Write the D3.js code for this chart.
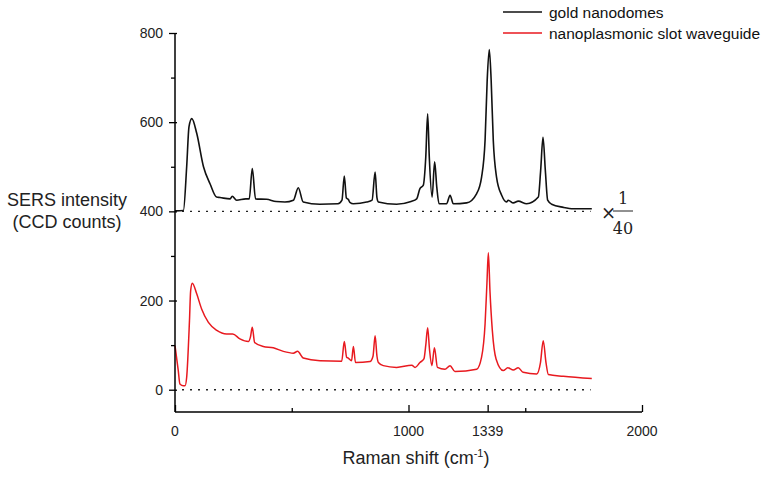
<!DOCTYPE html>
<html>
<head>
<meta charset="utf-8">
<script src="https://cdn.jsdelivr.net/npm/d3@7"></script>
<style>
  body { margin: 0; background: #fff; }
  svg { font-family: "Liberation Sans", Arial, sans-serif; }
</style>
</head>
<body>
<svg width="781" height="477"></svg>
<script>
// gold nanodomes, drawn offset by 400 (scaled x 1/40)
var goldShift = [0, 36, 50, 60, 72, 93, 122, 150, 178, 193, 236, 245, 264, 303, 318, 331, 345, 392, 433, 471,
  507, 528, 549, 620, 698, 715, 725, 734, 742, 749, 764, 821, 844, 857, 865, 871, 949, 1011, 1035, 1049,
  1063, 1074, 1082, 1089, 1101, 1112, 1121, 1131, 1163, 1178, 1192, 1249, 1292, 1313, 1328, 1337, 1346, 1354, 1363, 1377,
  1399, 1420, 1427, 1449, 1470, 1506, 1556, 1566, 1576, 1586, 1596, 1613, 1663, 1706, 1785];
var goldCounts = [401, 402, 500, 590, 608, 575, 500, 462, 432, 431, 428, 434, 425, 428, 428, 496, 428, 427, 422, 421,
  425, 453, 421, 416, 417, 425, 479, 430, 427, 420, 417, 421, 425, 488, 430, 421, 416, 422, 428, 451,
  458, 522, 619, 522, 432, 511, 455, 417, 417, 436, 417, 419, 440, 477, 560, 694, 763, 694, 560, 477,
  436, 421, 425, 419, 423, 417, 432, 492, 566, 492, 425, 416, 409, 406, 406];

// nanoplasmonic slot waveguide
var slotShift = [0, 14, 21, 36, 43, 50, 62, 67, 74, 93, 114, 143, 179, 221, 247, 278, 314, 323, 331, 341,
  378, 421, 464, 507, 525, 549, 621, 714, 725, 735, 742, 756, 764, 773, 835, 848, 857, 865, 871, 892,
  949, 1014, 1028, 1049, 1066, 1074, 1082, 1090, 1100, 1111, 1124, 1156, 1178, 1199, 1292, 1313, 1328, 1336, 1342, 1349,
  1359, 1375, 1406, 1425, 1449, 1470, 1491, 1549, 1565, 1577, 1589, 1599, 1663, 1785];
var slotCounts = [99, 43, 13, 9, 9, 28, 155, 222, 239, 215, 181, 151, 133, 125, 125, 114, 108, 118, 140, 106,
  97, 94, 86, 82, 86, 71, 65, 64, 108, 73, 71, 65, 97, 61, 63, 75, 121, 75, 61, 54,
  50, 55, 50, 61, 69, 100, 139, 90, 54, 94, 50, 46, 54, 41, 46, 73, 148, 240, 307, 220,
  133, 69, 43, 49, 44, 49, 39, 35, 60, 110, 60, 34, 30, 25];

var xMajor = [0, 1000, 1339, 2000];
var xMinor = [500, 1500];
var yMajor = [0, 200, 400, 600, 800];
var yMinor = [100, 300, 500, 700];
var baselines = [0, 400];
var seriesNames = ['gold nanodomes', 'nanoplasmonic slot waveguide'];
var seriesColors = ['#111111', '#e8191f'];

var svg = d3.select('svg');

var x = d3.scaleLinear().domain([0, 2000]).range([175, 642]);
var y = d3.scaleLinear().domain([-50, 800]).range([412, 33]);

var line = d3.line()
  .curve(d3.curveMonotoneX)
  .x(function(d) { return x(d[0]); })
  .y(function(d) { return y(d[1]); });

// dotted baselines
svg.selectAll('.base')
  .data(baselines)
  .enter()
  .append('line')
  .attr('x1', x(30))
  .attr('x2', x(1780))
  .attr('y1', function(d) { return y(d); })
  .attr('y2', function(d) { return y(d); })
  .attr('stroke', '#222')
  .attr('stroke-width', 1.4)
  .attr('stroke-dasharray', '2,6');

var gold = d3.zip(goldShift, goldCounts);
var slot = d3.zip(slotShift, slotCounts);

svg.append('path')
  .datum(slot)
  .attr('d', line)
  .attr('fill', 'none')
  .attr('stroke', seriesColors[1])
  .attr('stroke-width', 1.5)
  .attr('stroke-linejoin', 'round');

svg.append('path')
  .datum(gold)
  .attr('d', line)
  .attr('fill', 'none')
  .attr('stroke', seriesColors[0])
  .attr('stroke-width', 1.6)
  .attr('stroke-linejoin', 'round');

// x axis, ticks pointing up
var xAxis = svg.append('g').attr('transform', 'translate(0,' + y(-50) + ')');
xAxis.call(d3.axisTop(x).tickValues(xMajor).tickSize(7).tickFormat(''));
xAxis.call(function(g) {
  g.select('.domain').attr('stroke-width', 1.5).attr('d', 'M' + x(0) + ',0H' + x(2000));
  g.selectAll('.tick line').attr('stroke-width', 1.3);
});
svg.append('g')
  .attr('transform', 'translate(0,' + y(-50) + ')')
  .call(d3.axisTop(x).tickValues(xMinor).tickSize(4).tickFormat(''))
  .call(function(g) {
    g.select('.domain').remove();
    g.selectAll('.tick line').attr('stroke-width', 1.3);
  });
svg.selectAll('.xlab')
  .data(xMajor)
  .enter()
  .append('text')
  .attr('x', function(d) { return x(d); })
  .attr('y', 436)
  .attr('text-anchor', 'middle')
  .style('font-size', '14px')
  .attr('fill', '#222')
  .text(function(d) { return d; });

// y axis
var yAxis = svg.append('g').attr('transform', 'translate(' + x(0) + ',0)');
yAxis.call(d3.axisLeft(y).tickValues(yMajor).tickSize(6).tickPadding(6).tickFormat(d3.format('d')));
yAxis.call(function(g) {
  g.select('.domain').attr('stroke-width', 1.5).attr('d', 'M0,' + y(800) + 'V' + y(-50));
  g.selectAll('.tick line').attr('stroke-width', 1.3).attr('x2', -6).attr('x1', 2);
  g.selectAll('.tick text').style('font-size', '14px').attr('fill', '#222')
    .style('font-family', '"Liberation Sans", Arial, sans-serif');
});
svg.append('g')
  .attr('transform', 'translate(' + x(0) + ',0)')
  .call(d3.axisLeft(y).tickValues(yMinor).tickSize(4).tickFormat(''))
  .call(function(g) {
    g.select('.domain').remove();
    g.selectAll('.tick line').attr('stroke-width', 1.3);
  });

// axis titles
var xt = svg.append('text')
  .attr('x', 416)
  .attr('y', 464)
  .attr('text-anchor', 'middle')
  .style('font-size', '18px')
  .attr('fill', '#222');
xt.append('tspan').text('Raman shift (cm');
xt.append('tspan').attr('dy', -7).style('font-size', '11px').text('-1');
xt.append('tspan').attr('dy', 7).text(')');

svg.append('text')
  .attr('x', 67).attr('y', 206)
  .attr('text-anchor', 'middle').style('font-size', '18px').attr('fill', '#222')
  .text('SERS intensity');
svg.append('text')
  .attr('x', 67).attr('y', 228)
  .attr('text-anchor', 'middle').style('font-size', '18px').attr('fill', '#222')
  .text('(CCD counts)');

// x 1/40 label
var frac = svg.append('g').attr('font-family', '"DejaVu Serif", "Liberation Serif", serif').attr('fill', '#222');
frac.append('text').attr('x', 601).attr('y', 219).style('font-size', '18px').text('\u00d7');
frac.append('text').attr('x', 623).attr('y', 204).attr('text-anchor', 'middle').style('font-size', '16px').text('1');
frac.append('line').attr('x1', 613).attr('x2', 633).attr('y1', 211).attr('y2', 211)
  .attr('stroke', '#222').attr('stroke-width', 1);
frac.append('text').attr('x', 623).attr('y', 234).attr('text-anchor', 'middle').style('font-size', '16px').text('40');

// legend
var legend = svg.selectAll('.leg')
  .data(seriesNames)
  .enter()
  .append('g')
  .attr('transform', function(d, i) { return 'translate(503,' + (12 + i * 21) + ')'; });
legend.append('line')
  .attr('x1', 0).attr('x2', 39)
  .attr('stroke', function(d, i) { return seriesColors[i]; })
  .attr('stroke-width', 1.6);
legend.append('text')
  .attr('x', 46).attr('y', 5.5)
  .style('font-size', '15.5px')
  .attr('fill', '#111')
  .text(function(d) { return d; });
</script>
</body>
</html>
